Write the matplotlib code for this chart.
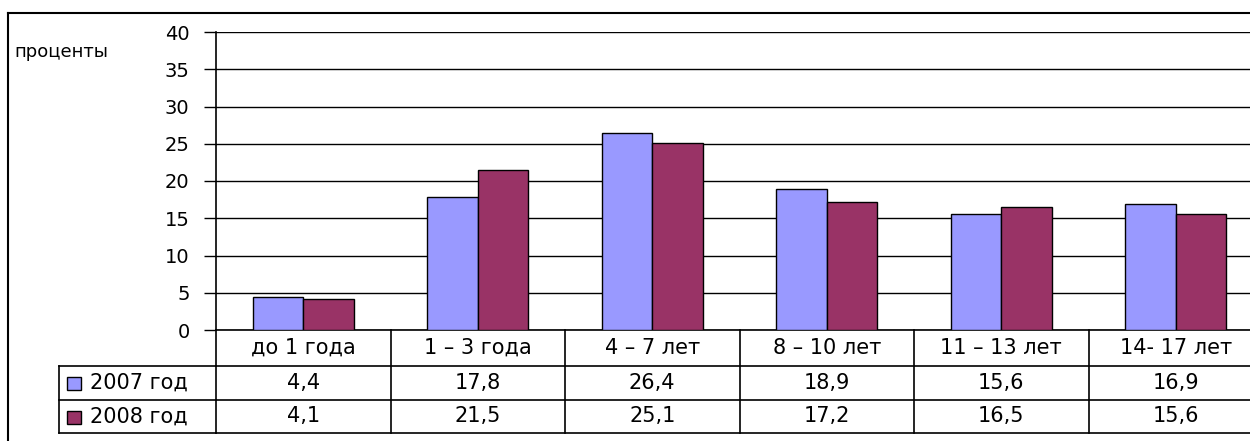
import matplotlib
matplotlib.use("Agg")
import matplotlib.pyplot as plt
from matplotlib.lines import Line2D
from matplotlib.patches import Rectangle
from matplotlib.transforms import blended_transform_factory

categories = ['до 1 года', '1 – 3 года', '4 – 7 лет', '8 – 10 лет', '11 – 13 лет', '14- 17 лет']
series_names = ['2007 год', '2008 год']
values_2007 = [4.4, 17.8, 26.4, 18.9, 15.6, 16.9]
values_2008 = [4.1, 21.5, 25.1, 17.2, 16.5, 15.6]
labels_2007 = ['4,4', '17,8', '26,4', '18,9', '15,6', '16,9']
labels_2008 = ['4,1', '21,5', '25,1', '17,2', '16,5', '15,6']
colors = ['#9999FF', '#993366']
yticks = [0, 5, 10, 15, 20, 25, 30, 35, 40]

plt.rcParams['font.family'] = ['DejaVu Sans']

W, H = 1250, 441
fig = plt.figure(figsize=(W / 100, H / 100), dpi=100)

def fx(x):
    return x / W

def fy(y):
    return 1 - y / H

# plot area in pixels
left, right, top, bottom = 216, 1263, 32, 330
ax = fig.add_axes([fx(left), fy(bottom), fx(right - left), (bottom - top) / H])
n = len(categories)
ax.set_xlim(-0.5, n - 0.5)
ax.set_ylim(0, 40)

w = 0.29
xs = list(range(n))
ax.bar([x - w / 2 for x in xs], values_2007, w, color=colors[0], edgecolor='black', linewidth=1, zorder=3)
ax.bar([x + w / 2 for x in xs], values_2008, w, color=colors[1], edgecolor='black', linewidth=1, zorder=3)

ax.set_yticks(yticks)
ax.set_yticklabels([str(t) for t in yticks], fontsize=14)
ax.tick_params(axis='y', length=9, width=1, pad=10, colors='black')
ax.set_xticks([])
for t in yticks:
    ax.axhline(t, color='black', linewidth=1, zorder=1)
for s in ['top', 'right', 'bottom']:
    ax.spines[s].set_visible(False)
ax.spines['left'].set_linewidth(1.2)

# data table below the axis
px = (bottom - top)  # pixels per axes unit in y
rows = [330, 366, 400, 433]
def ay(y):
    return (bottom - y) / px

tr = blended_transform_factory(ax.transData, ax.transAxes)
for y in rows:
    ax.add_line(Line2D([-0.5, n - 0.5], [ay(y), ay(y)], transform=tr, color='black', lw=1.2, clip_on=False))
for i in range(n + 1):
    ax.add_line(Line2D([i - 0.5, i - 0.5], [ay(rows[0]), ay(rows[-1])], transform=tr, color='black', lw=1.2, clip_on=False))

fs = 15
for i, c in enumerate(categories):
    ax.text(i, ay((rows[0] + rows[1]) / 2), c, transform=tr, ha='center', va='center', fontsize=fs)
    ax.text(i, ay((rows[1] + rows[2]) / 2), labels_2007[i], transform=tr, ha='center', va='center', fontsize=fs)
    ax.text(i, ay((rows[2] + rows[3]) / 2), labels_2008[i], transform=tr, ha='center', va='center', fontsize=fs)

# header cells for the series
hl = 59
for y in rows[1:]:
    fig.add_artist(Line2D([fx(hl), fx(left)], [fy(y), fy(y)], color='black', lw=1.2))
fig.add_artist(Line2D([fx(hl), fx(hl)], [fy(rows[1]), fy(rows[-1])], color='black', lw=1.2))
for k, name in enumerate(series_names):
    yc = (rows[k + 1] + rows[k + 2]) / 2
    fig.add_artist(Rectangle((fx(67), fy(yc + 7)), 14 / W, 13 / H, facecolor=colors[k], edgecolor='black', lw=1))
    fig.text(fx(90), fy(yc), name, ha='left', va='center', fontsize=fs)

fig.text(fx(14), fy(52), 'проценты', ha='left', va='center', fontsize=13)

# outer chart border
fig.add_artist(Line2D([fx(8), fx(8)], [fy(13), 0], color='black', lw=1.5))
fig.add_artist(Line2D([fx(8), 1], [fy(13), fy(13)], color='black', lw=1.5))

fig.savefig('out.png', dpi=100)
